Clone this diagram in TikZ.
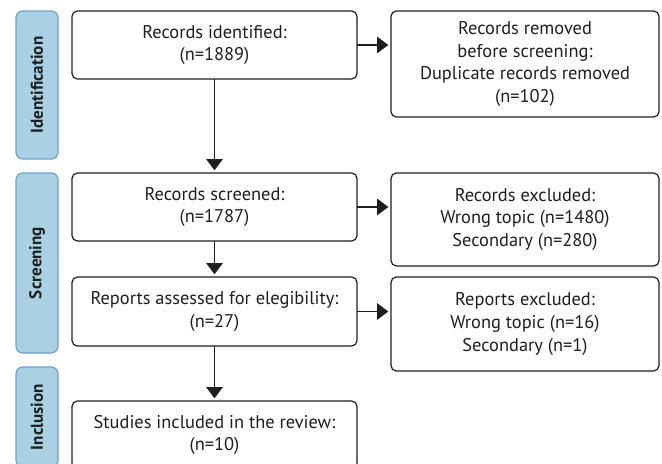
\documentclass[tikz,border=0pt]{standalone}
\usepackage{fontspec}
\setmainfont{PT Sans}
\usepackage{xcolor}
\usepackage{tikz}
\usetikzlibrary{arrows.meta}
\pgfdeclarelayer{nodelayer}
\pgfdeclarelayer{edgelayer}
\pgfsetlayers{nodelayer, edgelayer, main}
\definecolor{barfill}{RGB}{169,209,227}
\definecolor{barline}{RGB}{110,160,210}
\definecolor{ink}{RGB}{30,30,30}
\tikzset{
    box/.style={draw=ink, line width=0.9pt, rounded corners=4pt, inner sep=0pt, outer sep=0pt,
        align=center, text=ink, font=\fontsize{13.8}{17}\selectfont, minimum width=#1},
    box/.default=213.75pt,
    phase/.style={draw=barline, fill=barfill, line width=0.9pt, rounded corners=5pt, inner sep=0pt,
        rotate=90, minimum height=31.5pt, text=ink, font=\fontsize{12.8}{14}\selectfont\bfseries},
    flow/.style={draw=ink, line width=0.9pt, -{Triangle[length=8.5pt,width=12.5pt]}, shorten >=2pt}
}

\begin{document}
\begin{tikzpicture} [x=0.75pt,y=-0.75pt]
    \useasboundingbox (0,0) rectangle (662,464);
	\begin{pgfonlayer}{nodelayer}
        % phases
        \node[phase, minimum width=111pt] (a) at (37,85) {Identification};
        \node[phase, minimum width=135pt] (b) at (37,263) {Screening};
        \node[phase, minimum width=75pt] (c) at (37,417) {Inclusion};
        % main column
        \node[box, minimum height=51pt] (1) at (214.5,45) {Records identified:\\(n=1889)};
        \node[box, minimum height=51pt] (2) at (214.5,207) {Records screened:\\(n=1787)};
        \node[box, minimum height=51.75pt] (3) at (214.5,311.5) {Reports assessed for elegibility:\\(n=27)};
        \node[box, minimum height=51pt] (4) at (214.5,435) {Studies included in the review:\\(n=10)};
        % excluded column
        \node[box=201pt, minimum height=79.5pt] (5) at (525,64) {Records removed\\before screening:\\Duplicate records removed\\(n=102)};
        \node[box=201pt, minimum height=69.75pt] (6) at (525,219.5) {Records excluded:\\Wrong topic (n=1480)\\Secondary (n=280)};
        \node[box=201pt, minimum height=70.5pt] (7) at (525,324) {Reports excluded:\\Wrong topic (n=16)\\Secondary (n=1)};
	\end{pgfonlayer}
	\begin{pgfonlayer}{edgelayer}
        \draw[flow] (1) to (2);
        \draw[flow] (2) to (3);
        \draw[flow] (3) to (4);
        \draw[flow] (1.east) to (1.east -| 5.west);
        \draw[flow] (2.east) to (2.east -| 6.west);
        \draw[flow] (3.east) to (3.east -| 7.west);
	\end{pgfonlayer}
    \end{tikzpicture}
\end{document}
